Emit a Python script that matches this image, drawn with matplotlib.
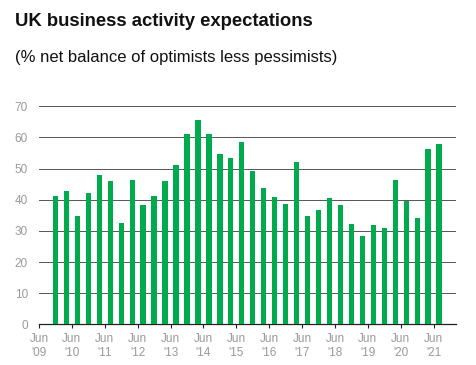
import matplotlib
matplotlib.use("Agg")
import matplotlib.pyplot as plt
import pandas as pd

plt.rcParams['font.family'] = ['Liberation Sans', 'DejaVu Sans']

# survey every four months, Dec 2009 .. Aug 2021
periods = pd.date_range('2009-12-01', periods=36, freq='4MS')
balance = [41.2, 42.7, 34.8, 42.3, 47.9, 46.0, 32.7, 46.3, 38.4, 41.2,
           45.9, 51.1, 61.0, 65.5, 61.1, 54.8, 53.3, 58.4, 49.3, 43.7,
           41.0, 38.7, 52.0, 34.8, 36.6, 40.6, 38.4, 32.1, 28.3, 31.9,
           31.0, 46.3, 39.7, 34.2, 56.4, 57.9]

tick_dates = pd.date_range('2009-06-01', '2021-06-01', freq='12MS')
tick_labels = ["Jun\n'%02d" % (d.year % 100) for d in tick_dates]
yticks = [0, 10, 20, 30, 40, 50, 60, 70]

fig = plt.figure(figsize=(4.76, 3.65), dpi=100)
ax = fig.add_axes([0.082, 0.111, 0.876, 0.598])

ax.bar(periods, balance, width=60, color='#00ab4e', zorder=3)

ax.set_ylim(0, 70)
ax.set_xlim(pd.Timestamp('2009-06-01'), pd.Timestamp('2022-02-05'))
ax.set_yticks(yticks)
ax.yaxis.grid(True, color='#555555', linewidth=0.7, zorder=0)
ax.set_xticks(tick_dates)
ax.set_xticklabels(tick_labels)
ax.tick_params(axis='x', length=3, width=0.8, colors='#222222', labelcolor='#999999',
               labelsize=8.5, pad=3)
ax.tick_params(axis='y', length=0, labelcolor='#999999', labelsize=8.5, pad=8)

for s in ['top', 'right', 'left']:
    ax.spines[s].set_visible(False)
ax.spines['bottom'].set_color('#222222')
ax.spines['bottom'].set_linewidth(0.9)

fig.text(0.032, 0.94, 'UK business activity expectations', fontsize=13.3,
         fontweight='bold', va='center', ha='left', color='#111111')
fig.text(0.032, 0.842, '(% net balance of optimists less pessimists)', fontsize=12,
         va='center', ha='left', color='#111111')

fig.savefig('out.png', dpi=100)
